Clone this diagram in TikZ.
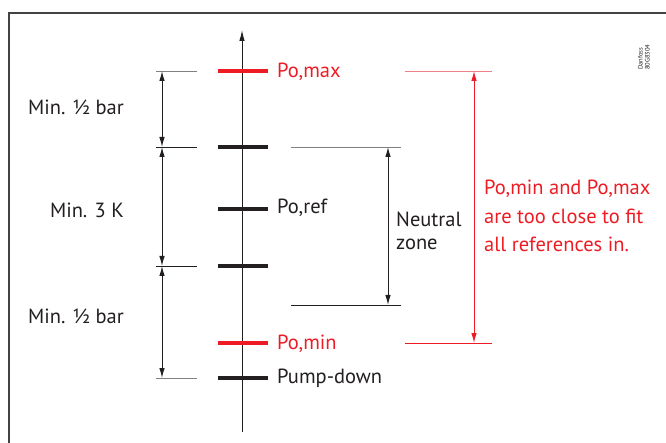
\documentclass[tikz,border=0pt]{standalone}
\usepackage{fontspec}
\setmainfont{PT Sans}
\usetikzlibrary{arrows.meta}
\definecolor{dred}{HTML}{ED1C24}
\definecolor{lred}{HTML}{F08088}
\definecolor{ink}{HTML}{231F20}
\begin{document}
\begin{tikzpicture}[x=1pt,y=-1pt,
  bar/.style={line width=4.5pt,ink},
  redbar/.style={line width=4.5pt,dred},
  tickline/.style={line width=0.7pt,ink},
  grayline/.style={line width=0.9pt,gray},
  dimarrow/.style={line width=1pt,ink,{Latex[length=10pt,width=5.5pt]}-{Latex[length=10pt,width=5.5pt]}},
  reddim/.style={line width=1pt,dred,{Latex[length=10pt,width=5.5pt]}-{Latex[length=10pt,width=5.5pt]}},
  lbl/.style={font=\fontsize{20.5}{24}\selectfont,text=ink,inner sep=0pt},
  redlbl/.style={font=\fontsize{20.5}{24}\selectfont,text=dred,inner sep=0pt}]
\useasboundingbox (0,0) rectangle (666,443);
% frame
\coordinate (fTR) at (666,13);
\coordinate (fTL) at (9,13);
\coordinate (fBL) at (9,443);
\draw[line width=1.5pt,ink!85] (fTR) -- (fTL) -- (fBL);
% main axis
\coordinate (axB) at (242,432);
\coordinate (axT) at (242,30);
\draw[line width=1pt,ink,-{Latex[length=11pt,width=5.5pt]}] (axB) -- (axT);
% bars
\coordinate (bmaxL) at (218,71);  \coordinate (bmaxR) at (268,71);
\coordinate (b1L) at (218,147);   \coordinate (b1R) at (268,147);
\coordinate (brefL) at (218,209); \coordinate (brefR) at (268,209);
\coordinate (b2L) at (218,266);   \coordinate (b2R) at (268,266);
\coordinate (bminL) at (218,343); \coordinate (bminR) at (268,343);
\coordinate (bpdL) at (218,378);  \coordinate (bpdR) at (268,378);
\draw[redbar] (bmaxL) -- (bmaxR);
\draw[bar] (b1L) -- (b1R);
\draw[bar] (brefL) -- (brefR);
\draw[bar] (b2L) -- (b2R);
\draw[redbar] (bminL) -- (bminR);
\draw[bar] (bpdL) -- (bpdR);
% left ticks
\coordinate (t1L) at (156,71);  \coordinate (t1R) at (197,71);
\coordinate (t2L) at (156,147); \coordinate (t2R) at (197,147);
\coordinate (t3L) at (156,266); \coordinate (t3R) at (197,266);
\coordinate (t4L) at (156,378); \coordinate (t4R) at (197,378);
\draw[grayline] (t1L) -- (t1R);
\draw[tickline] (t2L) -- (t2R);
\draw[tickline] (t3L) -- (t3R);
\draw[grayline] (t4L) -- (t4R);
\coordinate (a1) at (162,71);
\coordinate (a2) at (162,147);
\coordinate (a3) at (162,266);
\coordinate (a4) at (162,378);
\draw[dimarrow] (a1) -- (a2);
\draw[dimarrow] (a2) -- (a3);
\draw[dimarrow] (a3) -- (a4);
\node[lbl,anchor=east] (lbl1) at (124,107) {Min. ½ bar};
\node[lbl,anchor=east] (lbl2) at (124,210) {Min. 3 K};
\node[lbl,anchor=east] (lbl3) at (124,316) {Min. ½ bar};
% right labels
\node[redlbl,anchor=west] (pomax) at (277,72) {Po,max};
\node[lbl,anchor=west] (poref) at (277,208) {Po,ref};
\node[redlbl,anchor=west] (pomin) at (277,344) {Po,min};
\node[lbl,anchor=west] (pd) at (277,378) {Pump-down};
% neutral zone
\coordinate (nzTL) at (291,147); \coordinate (nzTR) at (401,147);
\coordinate (nzBL) at (291,305); \coordinate (nzBR) at (401,305);
\draw[grayline] (nzTL) -- (nzTR);
\draw[tickline] (nzBL) -- (nzBR);
\coordinate (nzA) at (388,147);
\coordinate (nzB) at (388,305);
\draw[dimarrow] (nzA) -- (nzB);
\node[lbl,anchor=west,align=left,font=\fontsize{20.5}{23}\selectfont] (nz) at (396,231) {Neutral\\zone};
% red range
\coordinate (rTL) at (405,71); \coordinate (rTR) at (492,71);
\coordinate (rBL) at (405,343); \coordinate (rBR) at (492,343);
\draw[line width=0.9pt,lred] (rTL) -- (rTR);
\draw[line width=0.9pt,dred] (rBL) -- (rBR);
\coordinate (rA) at (474,71);
\coordinate (rB) at (474,343);
\draw[reddim] (rA) -- (rB);
\node[redlbl,anchor=west,align=left,font=\fontsize{20.5}{28.5}\selectfont] (note) at (484,216) {Po,min and Po,max\\are too close to fit\\all references in.};
% code
\node[rotate=90,anchor=south west,font=\fontsize{6.5}{7}\selectfont,text=ink,align=left,inner sep=0pt] (code) at (650,70) {Danfoss\\80G8304};
\end{tikzpicture}
\end{document}
